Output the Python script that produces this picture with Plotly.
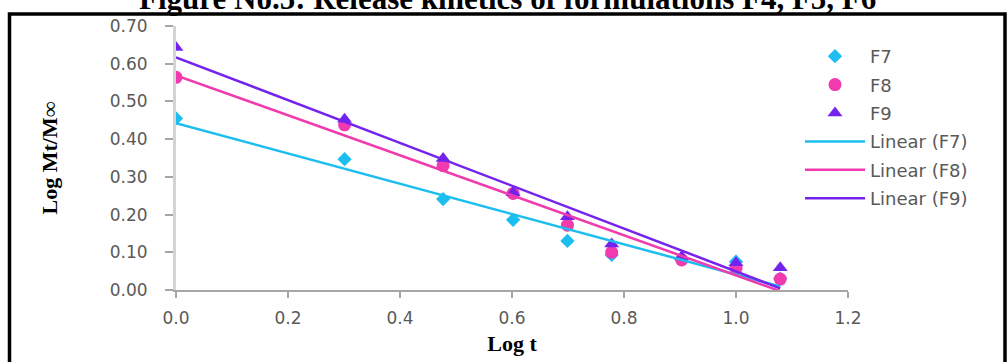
import numpy as np
import plotly.graph_objects as go

# ---- data ----
log_t = [0.0, 0.301, 0.477, 0.602, 0.699, 0.778, 0.903, 1.0, 1.079]
f7 = [0.455, 0.347, 0.241, 0.186, 0.130, 0.093, 0.080, 0.075, 0.030]
f8 = [0.564, 0.438, 0.330, 0.256, 0.172, 0.100, 0.080, 0.058, 0.029]
f9 = [0.643, 0.453, 0.349, 0.258, 0.194, 0.122, 0.088, 0.072, 0.059]
series_names = ["F7", "F8", "F9"]
x_tick_vals = [0.0, 0.2, 0.4, 0.6, 0.8, 1.0, 1.2]
y_tick_vals = [0.0, 0.1, 0.2, 0.3, 0.4, 0.5, 0.6, 0.7]
title_text = "Figure No.5: Release kinetics of formulations F4, F5, F6"
x_title = "Log t"
y_title = "Log Mt/M\u221e"

colors = ["#1CBDEF", "#F03AAE", "#7423EE"]
symbols = ["diamond", "circle", "triangle-up"]
marker_sizes = [11, 13, 13]

fig = go.Figure()
all_series = [f7, f8, f9]
for name, ys, c, s, ms in zip(series_names, all_series, colors, symbols, marker_sizes):
    fig.add_trace(go.Scatter(x=log_t, y=ys, mode="markers", name=name,
                             legendgroup=name,
                             marker=dict(color=c, symbol=s, size=ms)))
for name, ys, c in zip(series_names, all_series, colors):
    slope, intercept = np.polyfit(log_t, ys, 1)
    xs = [min(log_t), max(log_t)]
    fig.add_trace(go.Scatter(x=xs, y=[intercept + slope * v for v in xs],
                             mode="lines", name=f"Linear ({name})",
                             legendgroup="L" + name,
                             line=dict(color=c, width=2.5)))

tick_font = dict(family="DejaVu Sans", size=17, color="#595959")

L, R, T, B = 176, 160, 26, 72
W, H = 1008, 362
pw, ph = W - L - R, H - T - B

def px(xp):
    return (xp - L) / pw

def py(yp):
    return (H - B - yp) / ph

fig.update_layout(
    width=W, height=H,
    margin=dict(l=L, r=R, t=T, b=B, pad=0, autoexpand=False),
    paper_bgcolor="white", plot_bgcolor="white",
    showlegend=True,
    legend=dict(x=px(800), y=py(38), xanchor="left", yanchor="top",
                font=dict(family="DejaVu Sans", size=18, color="#595959"),
                itemwidth=60, tracegroupgap=2, traceorder="grouped",
                bgcolor="rgba(0,0,0,0)"),
    xaxis=dict(range=[0, 1.2], tickvals=x_tick_vals, automargin=False,
               ticktext=[f"{v:.1f}" for v in x_tick_vals],
               showline=True, linecolor="#A6A6A6", linewidth=1.5,
               ticks="outside", ticklen=6, tickcolor="#A6A6A6", tickwidth=1.5,
               showgrid=False, zeroline=False, tickfont=tick_font,
               ticklabelstandoff=6,
               title=dict(text=x_title, standoff=8,
                          font=dict(family="Liberation Serif", size=22,
                                    color="black", weight="bold"))),
    yaxis=dict(range=[0, 0.7], tickvals=y_tick_vals, automargin=False,
               ticktext=[f"{v:.2f}" for v in y_tick_vals],
               showline=True, linecolor="#D4D4D4", linewidth=3,
               ticks="outside", ticklen=8, tickcolor="#A6A6A6", tickwidth=1.5,
               showgrid=False, zeroline=False, tickfont=tick_font,
               ticklabelstandoff=14,
               title=dict(text=y_title, standoff=47,
                          font=dict(family="Liberation Serif", size=22,
                                    color="black", weight="bold"))),
    shapes=[dict(type="rect", xref="paper", yref="paper",
                 x0=px(9.5), x1=px(1005), y0=py(375), y1=py(14),
                 line=dict(color="black", width=3.5), fillcolor="rgba(0,0,0,0)",
                 layer="above")],
    annotations=[dict(text=title_text, xref="paper", yref="paper",
                      x=px(507), y=py(18), xanchor="center", yanchor="bottom",
                      showarrow=False,
                      font=dict(family="Liberation Serif", size=31, color="black",
                                weight="bold"))],
)

fig.write_html("out.html")
